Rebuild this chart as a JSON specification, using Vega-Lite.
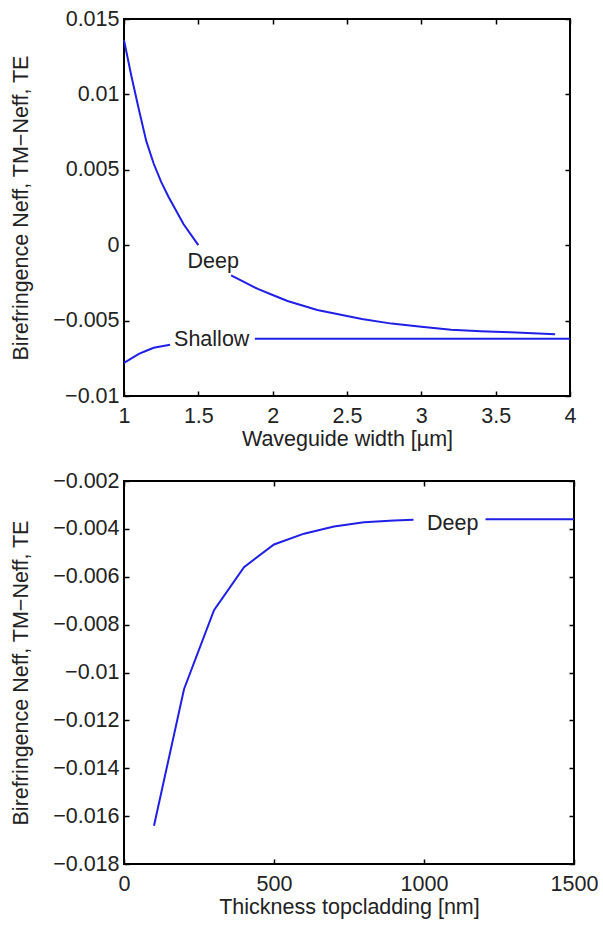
{
  "$schema": "https://vega.github.io/schema/vega-lite/v6.json",
  "background": "white",
  "padding": {"left": 9, "top": 7, "right": 5, "bottom": 5},
  "datasets": {
    "top": [
      {"w": 1.0, "b": 0.0136, "seg": "Deep1"},
      {"w": 1.05, "b": 0.0112, "seg": "Deep1"},
      {"w": 1.1, "b": 0.009, "seg": "Deep1"},
      {"w": 1.15, "b": 0.0069, "seg": "Deep1"},
      {"w": 1.2, "b": 0.0054, "seg": "Deep1"},
      {"w": 1.25, "b": 0.0042, "seg": "Deep1"},
      {"w": 1.3, "b": 0.0032, "seg": "Deep1"},
      {"w": 1.35, "b": 0.0023, "seg": "Deep1"},
      {"w": 1.4, "b": 0.0014, "seg": "Deep1"},
      {"w": 1.45, "b": 0.0007, "seg": "Deep1"},
      {"w": 1.5, "b": 0.0, "seg": "Deep1"},
      {"w": 1.72, "b": -0.002, "seg": "Deep2"},
      {"w": 1.8, "b": -0.0024, "seg": "Deep2"},
      {"w": 1.9, "b": -0.0029, "seg": "Deep2"},
      {"w": 2.0, "b": -0.0033, "seg": "Deep2"},
      {"w": 2.1, "b": -0.0037, "seg": "Deep2"},
      {"w": 2.2, "b": -0.004, "seg": "Deep2"},
      {"w": 2.3, "b": -0.0043, "seg": "Deep2"},
      {"w": 2.4, "b": -0.0045, "seg": "Deep2"},
      {"w": 2.5, "b": -0.0047, "seg": "Deep2"},
      {"w": 2.6, "b": -0.0049, "seg": "Deep2"},
      {"w": 2.8, "b": -0.0052, "seg": "Deep2"},
      {"w": 3.0, "b": -0.0054, "seg": "Deep2"},
      {"w": 3.2, "b": -0.0056, "seg": "Deep2"},
      {"w": 3.4, "b": -0.0057, "seg": "Deep2"},
      {"w": 3.6, "b": -0.00578, "seg": "Deep2"},
      {"w": 3.9, "b": -0.0059, "seg": "Deep2"},
      {"w": 1.0, "b": -0.0078, "seg": "Shallow1"},
      {"w": 1.05, "b": -0.0075, "seg": "Shallow1"},
      {"w": 1.1, "b": -0.0072, "seg": "Shallow1"},
      {"w": 1.15, "b": -0.007, "seg": "Shallow1"},
      {"w": 1.2, "b": -0.0068, "seg": "Shallow1"},
      {"w": 1.31, "b": -0.0066, "seg": "Shallow1"},
      {"w": 1.88, "b": -0.0062, "seg": "Shallow2"},
      {"w": 2.5, "b": -0.0062, "seg": "Shallow2"},
      {"w": 3.0, "b": -0.0062, "seg": "Shallow2"},
      {"w": 3.5, "b": -0.0062, "seg": "Shallow2"},
      {"w": 4.0, "b": -0.0062, "seg": "Shallow2"}
    ],
    "topLabels": [
      {"w": 1.6, "b": -0.0011, "label": "Deep"},
      {"w": 1.59, "b": -0.0063, "label": "Shallow"}
    ],
    "bottom": [
      {"t": 100, "b": -0.0164, "seg": "Deep1"},
      {"t": 200, "b": -0.0107, "seg": "Deep1"},
      {"t": 300, "b": -0.0074, "seg": "Deep1"},
      {"t": 400, "b": -0.0056, "seg": "Deep1"},
      {"t": 500, "b": -0.00465, "seg": "Deep1"},
      {"t": 600, "b": -0.0042, "seg": "Deep1"},
      {"t": 700, "b": -0.0039, "seg": "Deep1"},
      {"t": 800, "b": -0.00372, "seg": "Deep1"},
      {"t": 900, "b": -0.00365, "seg": "Deep1"},
      {"t": 965, "b": -0.00362, "seg": "Deep1"},
      {"t": 1205, "b": -0.0036, "seg": "Deep2"},
      {"t": 1300, "b": -0.0036, "seg": "Deep2"},
      {"t": 1400, "b": -0.0036, "seg": "Deep2"},
      {"t": 1500, "b": -0.0036, "seg": "Deep2"}
    ],
    "bottomLabels": [
      {"t": 1096, "b": -0.0038, "label": "Deep"}
    ]
  },
  "config": {
    "font": "Liberation Sans",
    "view": {"stroke": "#000000", "strokeWidth": 2},
    "axis": {
      "domain": false,
      "grid": false,
      "tickColor": "#000000",
      "tickWidth": 1.5,
      "tickSize": -5,
      "labelFont": "Liberation Sans",
      "labelFontSize": 21.5,
      "labelColor": "#222222",
      "labelPadding": 10,
      "titleFont": "Liberation Sans",
      "titleFontSize": 21.5,
      "titleFontWeight": "normal",
      "titleColor": "#222222"
    },
    "axisX": {"labelPadding": 14, "titlePadding": 2},
    "axisY": {"titlePadding": 20},
    "concat": {"spacing": 18}
  },
  "vconcat": [
    {
      "width": 446,
      "height": 377,
      "layer": [
        {
          "data": {"name": "top"},
          "mark": {"type": "line", "color": "#1f1fe6", "strokeWidth": 2},
          "encoding": {
            "x": {"field": "w", "type": "quantitative", "scale": {"domain": [1, 4], "nice": false, "zero": false},
              "axis": {"values": [1, 1.5, 2, 2.5, 3, 3.5, 4], "format": ".1~f", "title": "Waveguide width [µm]", "labelFlush": false}},
            "y": {"field": "b", "type": "quantitative", "scale": {"domain": [-0.01, 0.015], "nice": false, "zero": false},
              "axis": {"values": [-0.01, -0.005, 0, 0.005, 0.01, 0.015], "format": ".3~f", "title": "Birefringence Neff, TM−Neff, TE"}},
            "detail": {"field": "seg"}
          }
        },
        {
          "data": {"name": "topLabels"},
          "mark": {"type": "text", "fontSize": 21.5, "color": "#222222", "font": "Liberation Sans"},
          "encoding": {
            "x": {"field": "w", "type": "quantitative", "scale": {"domain": [1, 4], "nice": false, "zero": false},
              "axis": {"orient": "top", "labels": false, "title": null, "values": [1, 1.5, 2, 2.5, 3, 3.5, 4]}},
            "y": {"field": "b", "type": "quantitative", "scale": {"domain": [-0.01, 0.015], "nice": false, "zero": false},
              "axis": {"orient": "right", "labels": false, "title": null, "values": [-0.01, -0.005, 0, 0.005, 0.01, 0.015]}},
            "text": {"field": "label"}
          }
        }
      ],
      "resolve": {"axis": {"x": "independent", "y": "independent"}}
    },
    {
      "width": 450,
      "height": 383,
      "layer": [
        {
          "data": {"name": "bottom"},
          "mark": {"type": "line", "color": "#1f1fe6", "strokeWidth": 2},
          "encoding": {
            "x": {"field": "t", "type": "quantitative", "scale": {"domain": [0, 1500], "nice": false},
              "axis": {"values": [0, 500, 1000, 1500], "format": "d", "title": "Thickness topcladding [nm]", "labelFlush": false}},
            "y": {"field": "b", "type": "quantitative", "scale": {"domain": [-0.018, -0.002], "nice": false, "zero": false},
              "axis": {"values": [-0.018, -0.016, -0.014, -0.012, -0.01, -0.008, -0.006, -0.004, -0.002], "format": ".3~f", "title": "Birefringence Neff, TM−Neff, TE"}},
            "detail": {"field": "seg"}
          }
        },
        {
          "data": {"name": "bottomLabels"},
          "mark": {"type": "text", "fontSize": 21.5, "color": "#222222", "font": "Liberation Sans"},
          "encoding": {
            "x": {"field": "t", "type": "quantitative", "scale": {"domain": [0, 1500], "nice": false},
              "axis": {"orient": "top", "labels": false, "title": null, "values": [0, 500, 1000, 1500]}},
            "y": {"field": "b", "type": "quantitative", "scale": {"domain": [-0.018, -0.002], "nice": false, "zero": false},
              "axis": {"orient": "right", "labels": false, "title": null, "values": [-0.018, -0.016, -0.014, -0.012, -0.01, -0.008, -0.006, -0.004, -0.002]}},
            "text": {"field": "label"}
          }
        }
      ],
      "resolve": {"axis": {"x": "independent", "y": "independent"}}
    }
  ]
}
